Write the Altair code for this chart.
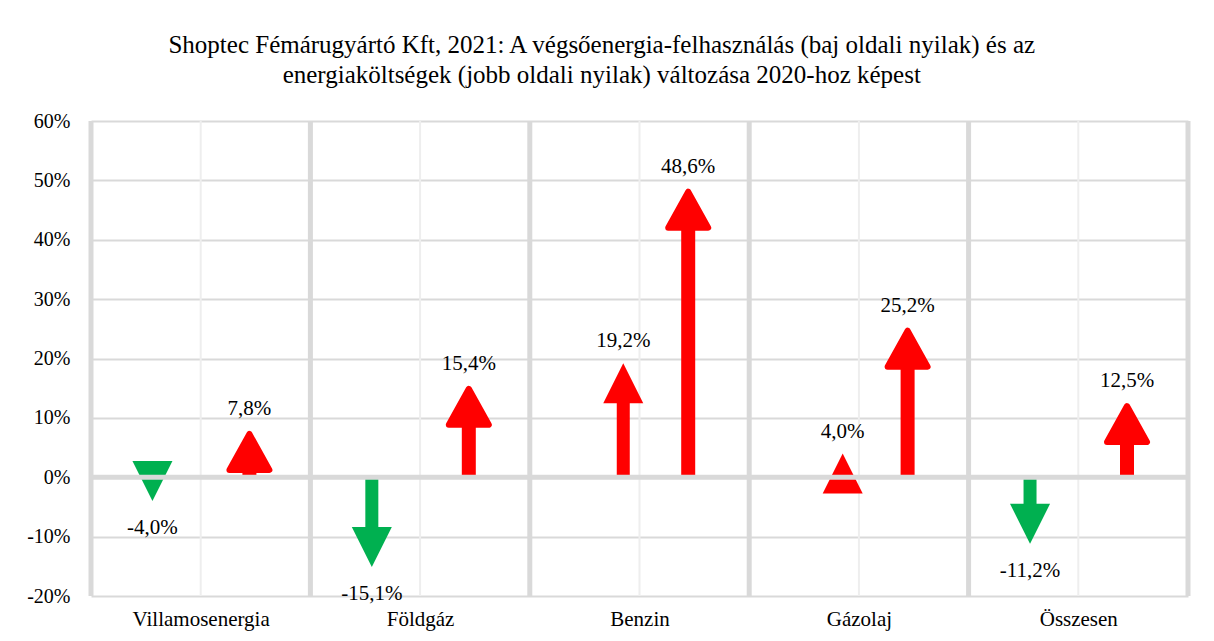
import json
import altair as alt
import pandas as pd

# ---- data ----
categories = ["Villamosenergia", "Földgáz", "Benzin", "Gázolaj", "Összesen"]
consumption = [-4.0, -15.1, 19.2, 4.0, -11.2]   # left arrows (végsőenergia-felhasználás)
cost = [7.8, 15.4, 48.6, 25.2, 12.5]            # right arrows (energiaköltségek)
y_ticks = [-20, -10, 0, 10, 20, 30, 40, 50, 60]

title_lines = [
    "Shoptec Fémárugyártó Kft, 2021: A végsőenergia-felhasználás (baj oldali nyilak) és az",
    "energiaköltségek (jobb oldali nyilak) változása 2020-hoz képest",
]

# ---- layout / style ----
PLOT_W = 1097
PLOT_H = 475
YMIN, YMAX = -20, 60
HEAD_PX = 40
px_per_unit = PLOT_H / (YMAX - YMIN)
head_units = HEAD_PX / px_per_unit
GREEN = "#00b050"
RED = "#ff0000"
GRID = "#d9d9d9"
FONT = "Liberation Serif"

rows = []
for i, c in enumerate(categories):
    rows.append({"cat": c, "idx": i, "series": "cons", "v": consumption[i]})
    rows.append({"cat": c, "idx": i, "series": "cost", "v": cost[i]})
df = pd.DataFrame(rows)

base = alt.Chart(df).transform_calculate(
    xpos="datum.idx + 0.5 + (datum.series == 'cost' ? 0.222 : (datum.v < 0 ? -0.22 : -0.074))",
    shaft_end=f"datum.v > 0 ? max(0, datum.v - {head_units/2}) : min(0, datum.v + {head_units/2})",
    color=f"datum.series == 'cost' ? '{RED}' : (datum.v < 0 ? '{GREEN}' : '{RED}')",
    shp="datum.series == 'cost' ? 'M0,0.15L1,1.95L-1,1.95Z' : (datum.v >= 0 ? 'M0,0L1,2L-1,2Z' : 'M0,0L1,-2L-1,-2Z')",
    label="(datum.v < 0 ? '-' : '') + replace(format(abs(datum.v), '.1f'), '.', ',') + '%'",
)

xscale = alt.Scale(domain=[0, len(categories)], nice=False, zero=False)
yscale = alt.Scale(domain=[YMIN, YMAX], nice=False)

x_enc = alt.X(
    "xpos:Q",
    scale=xscale,
    axis=alt.Axis(
        values=[i + 0.5 for i in range(len(categories))],
        labelExpr=f"{json.dumps(categories, ensure_ascii=False)}[floor(datum.value)]",
        title=None, grid=False, domain=False, ticks=False,
        labelFont=FONT, labelFontSize=21, labelColor="#000000", labelPadding=12,
    ),
)
y_enc = alt.Y(
    "v:Q",
    scale=yscale,
    axis=alt.Axis(
        values=y_ticks,
        labelExpr="(datum.value < 0 ? '-' : '') + abs(datum.value) + '%'",
        title=None, domain=False, ticks=False, grid=True,
        gridColor=GRID, gridWidth=2,
        labelFont=FONT, labelFontSize=20, labelColor="#000000", labelPadding=21,
        minExtent=78, maxExtent=78,
    ),
)

# vertical separators
bounds = pd.DataFrame({"b": list(range(len(categories) + 1))})
centers = pd.DataFrame({"c": [i + 0.5 for i in range(len(categories))]})

center_lines = alt.Chart(centers).mark_rule(color="#eeeeee", strokeWidth=2).encode(
    x=alt.X("c:Q", scale=xscale)
)
bound_lines = alt.Chart(bounds).mark_rule(color=GRID, strokeWidth=5).encode(
    x=alt.X("b:Q", scale=xscale)
)

grid_layer = base.mark_point(opacity=0).encode(x=x_enc, y=y_enc)

shafts_left = base.transform_filter("datum.series == 'cons'").transform_calculate(zero="0").mark_rule(
    strokeWidth=13, strokeCap="butt"
).encode(
    x=alt.X("xpos:Q", scale=xscale),
    y=alt.Y("zero:Q", scale=yscale),
    y2=alt.Y2("shaft_end:Q"),
    color=alt.Color("color:N", scale=None),
)

shafts_right = base.transform_filter("datum.series == 'cost'").transform_calculate(zero="0").mark_rule(
    strokeWidth=14, strokeCap="butt"
).encode(
    x=alt.X("xpos:Q", scale=xscale),
    y=alt.Y("zero:Q", scale=yscale),
    y2=alt.Y2("shaft_end:Q"),
    color=alt.Color("color:N", scale=None),
)

heads_left = base.transform_filter("datum.series == 'cons'").mark_point(
    filled=True, size=1600, opacity=1, strokeWidth=0
).encode(
    x=alt.X("xpos:Q", scale=xscale),
    y=alt.Y("v:Q", scale=yscale),
    shape=alt.Shape("shp:N", scale=None),
    color=alt.Color("color:N", scale=None),
)

heads_right = base.transform_filter("datum.series == 'cost'").mark_point(
    filled=True, size=1600, opacity=1, strokeWidth=6, strokeJoin="round"
).encode(
    x=alt.X("xpos:Q", scale=xscale),
    y=alt.Y("v:Q", scale=yscale),
    shape=alt.Shape("shp:N", scale=None),
    fill=alt.Fill("color:N", scale=None),
    stroke=alt.Stroke("color:N", scale=None),
)

zero_line = alt.Chart(pd.DataFrame({"z": [0]})).mark_rule(color=GRID, strokeWidth=5).encode(
    y=alt.Y("z:Q", scale=yscale)
)

labels_pos = base.transform_filter("datum.v >= 0").mark_text(
    font=FONT, fontSize=21, color="#000000", dy=-22, baseline="middle"
).encode(
    x=alt.X("xpos:Q", scale=xscale),
    y=alt.Y("v:Q", scale=yscale),
    text="label:N",
)
labels_neg = base.transform_filter("datum.v < 0").mark_text(
    font=FONT, fontSize=21, color="#000000", dy=27, baseline="middle"
).encode(
    x=alt.X("xpos:Q", scale=xscale),
    y=alt.Y("v:Q", scale=yscale),
    text="label:N",
)

chart = alt.layer(
    grid_layer, center_lines, bound_lines,
    shafts_left, shafts_right, heads_left, heads_right,
    zero_line, labels_pos, labels_neg,
).properties(
    width=PLOT_W, height=PLOT_H,
    title=alt.TitleParams(
        text=title_lines, font=FONT, fontSize=25, fontWeight="normal",
        color="#000000", lineHeight=30, anchor="middle", frame="bounds", offset=23,
    ),
    padding={"left": 5, "top": 25, "right": 5, "bottom": 5},
).configure_view(stroke=None).configure_axis(labelFont=FONT)

chart.save("out.html", embed_options={"renderer": "svg", "actions": False})
